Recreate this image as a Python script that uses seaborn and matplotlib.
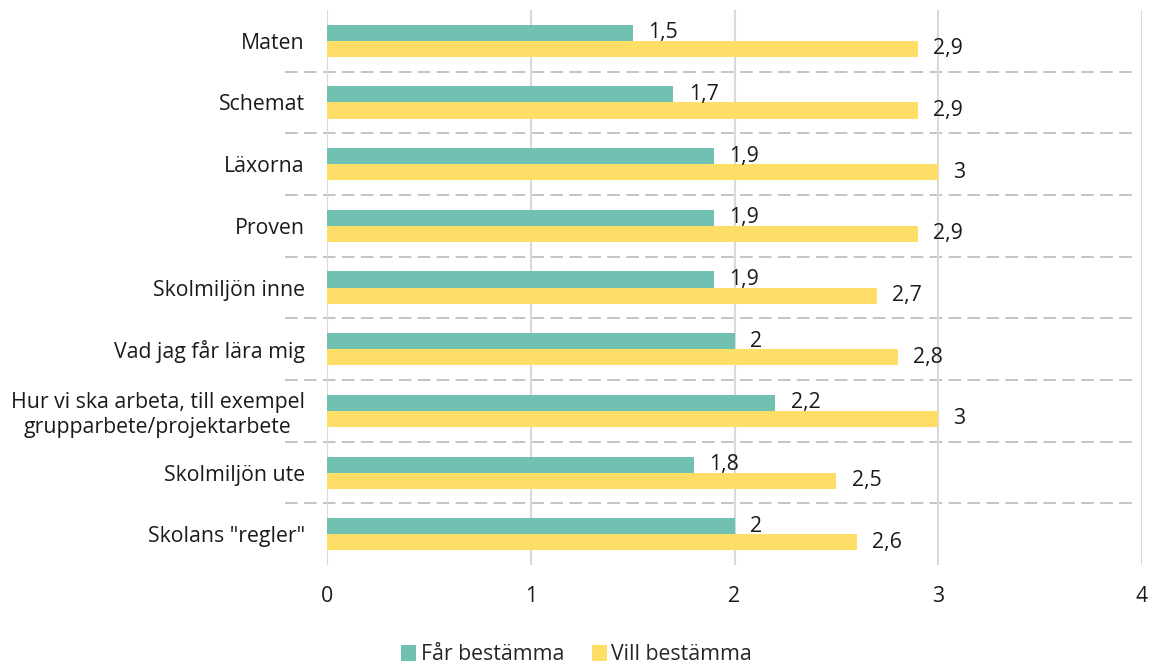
import matplotlib
matplotlib.use("Agg")
import matplotlib.pyplot as plt
import matplotlib.transforms as mtransforms
from matplotlib.patches import Patch
import pandas as pd
import seaborn as sns

categories = ["Maten", "Schemat", "Läxorna", "Proven", "Skolmiljön inne",
              "Vad jag får lära mig",
              "Hur vi ska arbeta, till exempel\ngrupparbete/projektarbete",
              "Skolmiljön ute", 'Skolans "regler"']
far_bestamma = [1.5, 1.7, 1.9, 1.9, 1.9, 2.0, 2.2, 1.8, 2.0]
vill_bestamma = [2.9, 2.9, 3.0, 2.9, 2.7, 2.8, 3.0, 2.5, 2.6]
series_names = ["Får bestämma", "Vill bestämma"]
x_ticks = [0, 1, 2, 3, 4]

colors = ["#71C1B3", "#FEDE66"]

data = pd.DataFrame({
    "kategori": categories * 2,
    "serie": [series_names[0]] * len(categories) + [series_names[1]] * len(categories),
    "varde": far_bestamma + vill_bestamma,
})

sns.set_theme(style="white")
plt.rcParams['font.family'] = ['Open Sans', 'DejaVu Sans']
font_size = 15.3
text_color = "#1a1a1a"

fig, ax = plt.subplots(figsize=(11.53, 6.64), dpi=100)
fig.subplots_adjust(left=0.2836, right=0.9905, top=0.985, bottom=0.149)

sns.barplot(data=data, y="kategori", x="varde", hue="serie", order=categories,
            hue_order=series_names, palette=colors, width=0.52, orient="h",
            saturation=1, legend=False, linewidth=0, ax=ax)

for container in ax.containers:
    labels = [("%g" % v).replace(".", ",") for v in container.datavalues]
    ax.bar_label(container, labels=labels, padding=11, fontsize=font_size,
                 color=text_color)

ax.set_xlim(0, 4)
ax.set_ylim(len(categories) - 0.5, -0.5)
ax.set_xticks(x_ticks)
ax.set_xticklabels([str(t) for t in x_ticks], fontsize=font_size, color=text_color)
ax.tick_params(axis="x", length=0, pad=15)
ax.tick_params(axis="y", length=0, pad=16)
for lbl in ax.get_yticklabels():
    lbl.set_fontsize(font_size)
    lbl.set_color(text_color)
    lbl.set_multialignment("center")

ax.set_xlabel("")
ax.set_ylabel("")
for s in ax.spines.values():
    s.set_visible(False)

ax.set_axisbelow(True)
ax.grid(axis="x", color="#d9d9d9", linewidth=1.5)
ax.grid(axis="y", visible=False)

# dashed separators between the categories
trans = mtransforms.blended_transform_factory(ax.transAxes, ax.transData)
for i in range(len(categories) - 1):
    ax.plot([-0.0515, 0.988], [i + 0.5, i + 0.5], transform=trans,
            color="#bfbfbf", linewidth=1.3, linestyle=(0, (7, 3.5)),
            clip_on=False, zorder=0)

handles = [Patch(facecolor=c, edgecolor="none") for c in colors]
fig.legend(handles, series_names, loc="lower center", ncol=2, frameon=False,
           fontsize=font_size, bbox_to_anchor=(0.5, -0.031), handlelength=0.72,
           handleheight=0.72, handletextpad=0.2, columnspacing=1.3)

plt.savefig("out.png", dpi=100)
